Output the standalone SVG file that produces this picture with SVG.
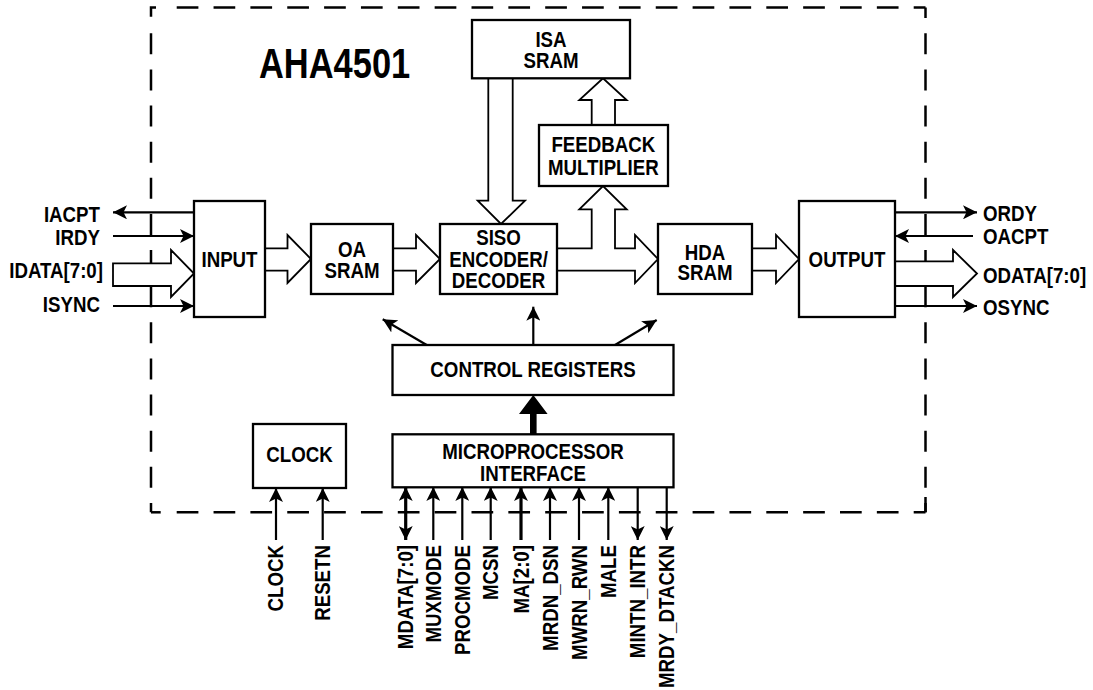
<svg xmlns="http://www.w3.org/2000/svg" width="1093" height="690" viewBox="0 0 1093 690">
<style>
.t{font-family:"Liberation Sans",Arial,sans-serif;font-weight:bold;font-size:22px;fill:#000}
.c{text-anchor:middle}
.e{text-anchor:end}
.box{fill:#fff;stroke:#000;stroke-width:2.3}
.dash{fill:none;stroke:#000;stroke-width:2.5}
.sig{fill:none;stroke:#000;stroke-width:2.2}
.bus{fill:none;stroke:#000;stroke-width:3.2}
.hollow{fill:#fff;stroke:#000;stroke-width:1.8;stroke-linejoin:miter}
</style>
<defs>
<marker id="ah" viewBox="0 0 14 14" refX="14" refY="7" markerWidth="14" markerHeight="14" markerUnits="userSpaceOnUse" orient="auto-start-reverse">
<path d="M0,0 L14,7 L0,14 L3.5,7 z" fill="#000"/>
</marker>
</defs>
<rect width="1093" height="690" fill="#fff"/>
<g id="border">
<line class="dash" x1="176.7" y1="7.5" x2="925.5" y2="7.5" stroke-dasharray="21.7 15.15"/>
<line class="dash" x1="176.7" y1="512.3" x2="925.5" y2="512.3" stroke-dasharray="21.7 15.15"/>
<line class="dash" x1="151" y1="33.3" x2="151" y2="512.3" stroke-dasharray="21 15.13"/>
<line class="dash" x1="925.5" y1="33.3" x2="925.5" y2="512.3" stroke-dasharray="21 15.13"/>
<path class="dash" d="M151,16.7 V7.5 H156"/>
<path class="dash" d="M925.5,7.5 V18"/>
<path class="dash" d="M151,512.3 H160.7"/>
<path class="dash" d="M925.5,497 V512.3"/>
</g>
<text class="t" transform="translate(259,78) scale(0.82,1)" style="font-size:42px">AHA4501</text>
<g id="connectors">
<path class="hollow" d="M265,248.3 H287.5 V235 L311,259 L287.5,283 V270.7 H265"/>
<path class="hollow" d="M393,248.3 H416 V235 L440,259 L416,283 V270.7 H393"/>
<path class="hollow" d="M488.3,78.3 V200.7 H477.7 L501,224 L525,200.7 H512.7 V78.3"/>
<path class="hollow" d="M591.7,125 V100 H579.3 L603,78.3 L626.7,100 H615 V125"/>
<path class="hollow" d="M557,248.3 H591.7 V209.3 H579.3 L603,186 L626.7,209.3 H615 V248.3 H635 V235 L658,259 L635,283 V270.7 H557"/>
<path class="hollow" d="M752,248.3 H776 V235 L799,259 L776,283 V270.7 H752"/>
<path class="hollow" d="M113,263.3 H171 V250 L194,273.5 L171,297 V286 H113 Z"/>
<path class="hollow" d="M895,261.3 H953 V250 L977,273.5 L953,297 V286 H895"/>
<line class="sig" x1="194" y1="212.3" x2="113" y2="212.3" marker-end="url(#ah)"/>
<line class="sig" x1="113" y1="236" x2="194" y2="236" marker-end="url(#ah)"/>
<line class="sig" x1="113" y1="306" x2="194" y2="306" marker-end="url(#ah)"/>
<line class="sig" x1="895" y1="212.3" x2="977" y2="212.3" marker-end="url(#ah)"/>
<line class="sig" x1="973" y1="236" x2="895" y2="236" marker-end="url(#ah)"/>
<line class="sig" x1="895" y1="306" x2="977" y2="306" marker-end="url(#ah)"/>
<line class="sig" x1="426.7" y1="345" x2="382.7" y2="319.3" marker-end="url(#ah)"/>
<line class="sig" x1="533.3" y1="345" x2="533.3" y2="306.7" marker-end="url(#ah)"/>
<line class="sig" x1="615" y1="345" x2="656.7" y2="320" marker-end="url(#ah)"/>
<path d="M530,434 V414 H519 L533.3,395 L547.6,414 H536.6 V434 Z" fill="#000"/>
<line class="bus" x1="405.7" y1="540" x2="405.7" y2="487" marker-start="url(#ah)" marker-end="url(#ah)"/>
<line class="sig" x1="433.3" y1="540" x2="433.3" y2="487" marker-end="url(#ah)"/>
<line class="sig" x1="462.3" y1="540" x2="462.3" y2="487" marker-end="url(#ah)"/>
<line class="sig" x1="490.7" y1="540" x2="490.7" y2="487" marker-end="url(#ah)"/>
<line class="bus" x1="521" y1="540" x2="521" y2="487" marker-end="url(#ah)"/>
<line class="sig" x1="550" y1="540" x2="550" y2="487" marker-end="url(#ah)"/>
<line class="sig" x1="579" y1="540" x2="579" y2="487" marker-end="url(#ah)"/>
<line class="sig" x1="608.3" y1="540" x2="608.3" y2="487" marker-end="url(#ah)"/>
<line class="sig" x1="637.7" y1="487" x2="637.7" y2="540" marker-end="url(#ah)"/>
<line class="sig" x1="666.7" y1="487" x2="666.7" y2="540" marker-end="url(#ah)"/>
<line class="sig" x1="276" y1="540" x2="276" y2="488" marker-end="url(#ah)"/>
<line class="sig" x1="322.7" y1="540" x2="322.7" y2="488" marker-end="url(#ah)"/>
</g>
<g id="node-input"><rect class="box" x="194" y="201" width="71" height="116"/>
<text class="t c" transform="translate(229.5,267.3) scale(0.85,1)">INPUT</text></g>
<g id="node-oa"><rect class="box" x="311" y="224" width="82" height="70"/>
<text class="t c" transform="translate(352,0) scale(0.85,1)"><tspan x="0" y="257.3">OA</tspan><tspan x="0" y="278.3">SRAM</tspan></text></g>
<g id="node-siso"><rect class="box" x="440" y="224" width="117" height="70"/>
<text class="t c" transform="translate(498.5,0) scale(0.85,1)"><tspan x="0" y="245.5">SISO</tspan><tspan x="0" y="267">ENCODER/</tspan><tspan x="0" y="288.3">DECODER</tspan></text></g>
<g id="node-isa"><rect class="box" x="472" y="20" width="158" height="58.3"/>
<text class="t c" transform="translate(551,0) scale(0.85,1)"><tspan x="0" y="46.7">ISA</tspan><tspan x="0" y="68.3">SRAM</tspan></text></g>
<g id="node-fm"><rect class="box" x="539" y="125" width="129" height="61"/>
<text class="t c" transform="translate(603.3,0) scale(0.85,1)"><tspan x="0" y="151.7">FEEDBACK</tspan><tspan x="0" y="175">MULTIPLIER</tspan></text></g>
<g id="node-hda"><rect class="box" x="658" y="224" width="94" height="70"/>
<text class="t c" transform="translate(705,0) scale(0.85,1)"><tspan x="0" y="260">HDA</tspan><tspan x="0" y="280.5">SRAM</tspan></text></g>
<g id="node-output"><rect class="box" x="799" y="201" width="96" height="116"/>
<text class="t c" transform="translate(847,267.3) scale(0.85,1)">OUTPUT</text></g>
<g id="node-cr"><rect class="box" x="392.5" y="345" width="281" height="50"/>
<text class="t c" transform="translate(533,377.3) scale(0.85,1)">CONTROL REGISTERS</text></g>
<g id="node-mpi"><rect class="box" x="392.5" y="434.3" width="281" height="53"/>
<text class="t c" transform="translate(533,0) scale(0.85,1)"><tspan x="0" y="459.3">MICROPROCESSOR</tspan><tspan x="0" y="481">INTERFACE</tspan></text></g>
<g id="node-clock"><rect class="box" x="253" y="424" width="93" height="64"/>
<text class="t c" transform="translate(299.5,461.7) scale(0.85,1)">CLOCK</text></g>
<g id="labels">
<text class="t e" transform="translate(100,221.7) scale(0.85,1)">IACPT</text>
<text class="t e" transform="translate(100,245) scale(0.85,1)">IRDY</text>
<text class="t e" transform="translate(103,278.3) scale(0.85,1)">IDATA[7:0]</text>
<text class="t e" transform="translate(100,311.7) scale(0.85,1)">ISYNC</text>
<text class="t" transform="translate(983,220.7) scale(0.85,1)">ORDY</text>
<text class="t" transform="translate(983,244) scale(0.85,1)">OACPT</text>
<text class="t" transform="translate(983,283) scale(0.85,1)">ODATA[7:0]</text>
<text class="t" transform="translate(983,315) scale(0.85,1)">OSYNC</text>
<text class="t e" transform="translate(283,545) rotate(-90) scale(0.85,1)">CLOCK</text>
<text class="t e" transform="translate(330,545) rotate(-90) scale(0.85,1)">RESETN</text>
<text class="t e" transform="translate(413,545) rotate(-90) scale(0.85,1)">MDATA[7:0]</text>
<text class="t e" transform="translate(441,545) rotate(-90) scale(0.85,1)">MUXMODE</text>
<text class="t e" transform="translate(470,545) rotate(-90) scale(0.85,1)">PROCMODE</text>
<text class="t e" transform="translate(498,545) rotate(-90) scale(0.85,1)">MCSN</text>
<text class="t e" transform="translate(528.5,545) rotate(-90) scale(0.85,1)">MA[2:0]</text>
<text class="t e" transform="translate(557.5,545) rotate(-90) scale(0.85,1)">MRDN_DSN</text>
<text class="t e" transform="translate(586.5,545) rotate(-90) scale(0.85,1)">MWRN_RWN</text>
<text class="t e" transform="translate(616,545) rotate(-90) scale(0.85,1)">MALE</text>
<text class="t e" transform="translate(645,545) rotate(-90) scale(0.85,1)">MINTN_INTR</text>
<text class="t e" transform="translate(674,545) rotate(-90) scale(0.85,1)">MRDY_DTACKN</text>
</g>
</svg>
